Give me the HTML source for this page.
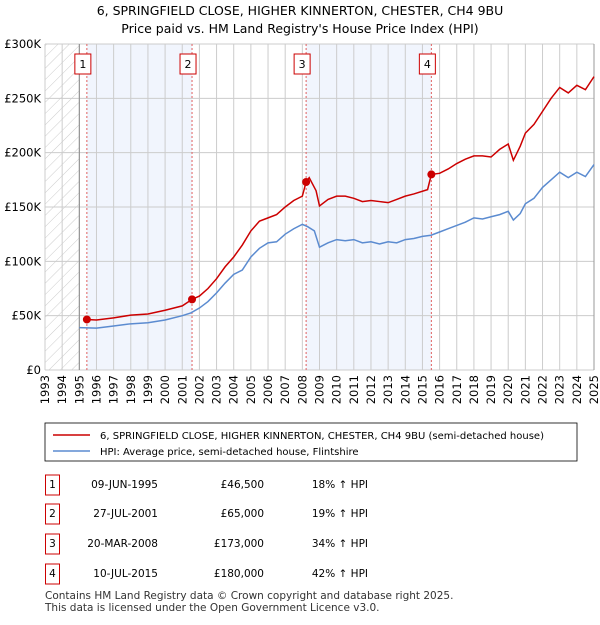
<!DOCTYPE html>
<html><head><meta charset="utf-8"><style>
body{margin:0;background:#fff;font-family:"Liberation Sans","DejaVu Sans",sans-serif;}
svg text{font-family:"DejaVu Sans","Liberation Sans",sans-serif;}
</style></head><body>
<svg id="c" width="600" height="620" xmlns="http://www.w3.org/2000/svg">
<defs><pattern id="h" width="8" height="8" patternUnits="userSpaceOnUse" patternTransform="rotate(45)"><line x1="0" y1="0" x2="0" y2="8" stroke="#ccc" stroke-width="1"/></pattern></defs>
<text x="300" y="15" text-anchor="middle" font-size="12.5">6, SPRINGFIELD CLOSE, HIGHER KINNERTON, CHESTER, CH4 9BU</text>
<text x="300" y="33" text-anchor="middle" font-size="12.5">Price paid vs. HM Land Registry's House Price Index (HPI)</text>
<g id="plot"></g>
<rect x="45" y="423" width="532" height="38" fill="#fff" stroke="#000" stroke-width="0.8"/>
<line x1="53" y1="435" x2="90" y2="435" stroke="#cc0000" stroke-width="1.5"/>
<text x="100" y="439" font-size="10">6, SPRINGFIELD CLOSE, HIGHER KINNERTON, CHESTER, CH4 9BU (semi-detached house)</text>
<line x1="53" y1="451" x2="90" y2="451" stroke="#5b8bd0" stroke-width="1.5"/>
<text x="100" y="455" font-size="10">HPI: Average price, semi-detached house, Flintshire</text>
<g id="tbl" font-size="10.5"></g>
<text x="45" y="599" font-size="10.5" fill="#333">Contains HM Land Registry data © Crown copyright and database right 2025.</text>
<text x="45" y="611" font-size="10.5" fill="#333">This data is licensed under the Open Government Licence v3.0.</text>
</svg>
<script>
const hpiYears=[1995,1996,1997,1998,1999,2000,2001,2001.5,2002,2002.5,2003,2003.5,2004,2004.5,2005,2005.5,2006,2006.5,2007,2007.5,2008,2008.3,2008.7,2009,2009.5,2010,2010.5,2011,2011.5,2012,2012.5,2013,2013.5,2014,2014.5,2015,2015.5,2016,2016.5,2017,2017.5,2018,2018.5,2019,2019.5,2020,2020.3,2020.7,2021,2021.5,2022,2022.5,2023,2023.5,2024,2024.5,2025];
const hpiValues=[39,38.5,40.5,42.5,43.5,46,50,52.5,57,63,71,80,88,92,104,112,117,118,125,130,134,132,128,113,117,120,119,120,117,118,116,118,117,120,121,123,124,127,130,133,136,140,139,141,143,146,138,144,153,158,168,175,182,177,182,178,189];
const priceYears=[1995.44,1996,1997,1998,1999,2000,2001,2001.57,2002,2002.5,2003,2003.5,2004,2004.5,2005,2005.5,2006,2006.5,2007,2007.5,2008,2008.22,2008.4,2008.8,2009,2009.5,2010,2010.5,2011,2011.5,2012,2012.5,2013,2013.5,2014,2014.5,2015.3,2015.52,2016,2016.5,2017,2017.5,2018,2018.5,2019,2019.5,2020,2020.3,2020.7,2021,2021.5,2022,2022.5,2023,2023.5,2024,2024.5,2025];
const priceValues=[46.5,46,48,50.5,51.5,55,59,65,68,75,84,95,104,115,128,137,140,143,150,156,160,173,177,165,151,157,160,160,158,155,156,155,154,157,160,162,166,180,181,185,190,194,197,197,196,203,208,193,206,218,226,238,250,260,255,262,258,270];
const saleYears=[1995.44,2001.57,2008.22,2015.52];
const saleValues=[46.5,65,173,180];
const saleLabels=["1","2","3","4"];
const saleDates=["09-JUN-1995","27-JUL-2001","20-MAR-2008","10-JUL-2015"];
const salePrices=["£46,500","£65,000","£173,000","£180,000"];
const saleHpi=["18% ↑ HPI","19% ↑ HPI","34% ↑ HPI","42% ↑ HPI"];
const yTicks=[0,50,100,150,200,250,300];
const yTickLabels=["£0","£50K","£100K","£150K","£200K","£250K","£300K"];
const X0=45,X1=594,Y0=370,Y1=44;
const xs=y=>X0+(y-1993)/(2025-1993)*(X1-X0);
const ys=v=>Y0-v/300*(Y0-Y1);
const NS="http://www.w3.org/2000/svg";
const g=document.getElementById('plot');
function mk(t,a,p){const e=document.createElementNS(NS,t);for(const k in a)e.setAttribute(k,a[k]);(p||g).appendChild(e);return e;}
let e;
e=mk('rect',{x:X0,y:Y1,width:xs(1995)-X0,height:Y0-Y1,fill:'url(#h)'});


for(let i=0;i<4;i+=2){e=mk('rect',{x:xs(saleYears[i]),y:Y1,width:xs(saleYears[i+1])-xs(saleYears[i]),height:Y0-Y1,fill:'#eef3fc',opacity:0.8});

}
for(let yr=1993;yr<=2025;yr++){e=mk('line',{x1:xs(yr),x2:xs(yr),y1:Y1,y2:Y0,stroke:'#ccc','stroke-width':1});


e=mk('text',{transform:`translate(${xs(yr)+4},375) rotate(-90)`,'text-anchor':'end','font-size':11.5});
e.textContent=yr;

}
yTicks.forEach((v,i)=>{e=mk('line',{x1:X0,x2:X1,y1:ys(v),y2:ys(v),stroke:'#ccc','stroke-width':1});


e=mk('text',{x:X0-4,y:ys(v)+4,'text-anchor':'end','font-size':11.5});
e.textContent=yTickLabels[i];

});
e=mk('line',{x1:xs(1995),x2:xs(1995),y1:Y1,y2:Y0,stroke:'#888','stroke-width':1});


e=mk('line',{x1:X1,x2:X1,y1:Y1,y2:Y0,stroke:'#999','stroke-width':1});


saleYears.forEach((yr,i)=>{e=mk('line',{x1:xs(yr),x2:xs(yr),y1:Y1,y2:Y0,stroke:'#e06060','stroke-width':1,'stroke-dasharray':'2,2'});

});
e=mk('polyline',{points:hpiYears.map((y,i)=>xs(y)+','+ys(hpiValues[i])).join(' '),fill:'none',stroke:'#5b8bd0','stroke-width':1.5});


e=mk('polyline',{points:priceYears.map((y,i)=>xs(y)+','+ys(priceValues[i])).join(' '),fill:'none',stroke:'#cc0000','stroke-width':1.5});


saleYears.forEach((yr,i)=>{e=mk('circle',{cx:xs(yr),cy:ys(saleValues[i]),r:4,fill:'#cc0000'});


const bx=xs(yr)-9;
e=mk('rect',{x:bx-3,y:54,width:16,height:20,fill:'#fff',stroke:'#cc0000','stroke-width':1});


e=mk('text',{x:bx+5,y:68,'text-anchor':'middle','font-size':11});
e.textContent=saleLabels[i];

});
const t=document.getElementById('tbl');
const rowY=[485,514,544,574];
saleLabels.forEach((l,i)=>{const y=rowY[i];
e=mk('rect',{x:45.5,y:y-10,width:14,height:20,fill:'#fff',stroke:'#cc0000','stroke-width':1},t);


const cols=[[52.5,l,'middle'],[158,saleDates[i],'end'],[264,salePrices[i],'end'],[368,saleHpi[i],'end']];
cols.forEach(c=>{e=mk('text',{x:c[0],y:y+3,'text-anchor':c[2]},t);
e.textContent=c[1];

});});
</script>
</body></html>
